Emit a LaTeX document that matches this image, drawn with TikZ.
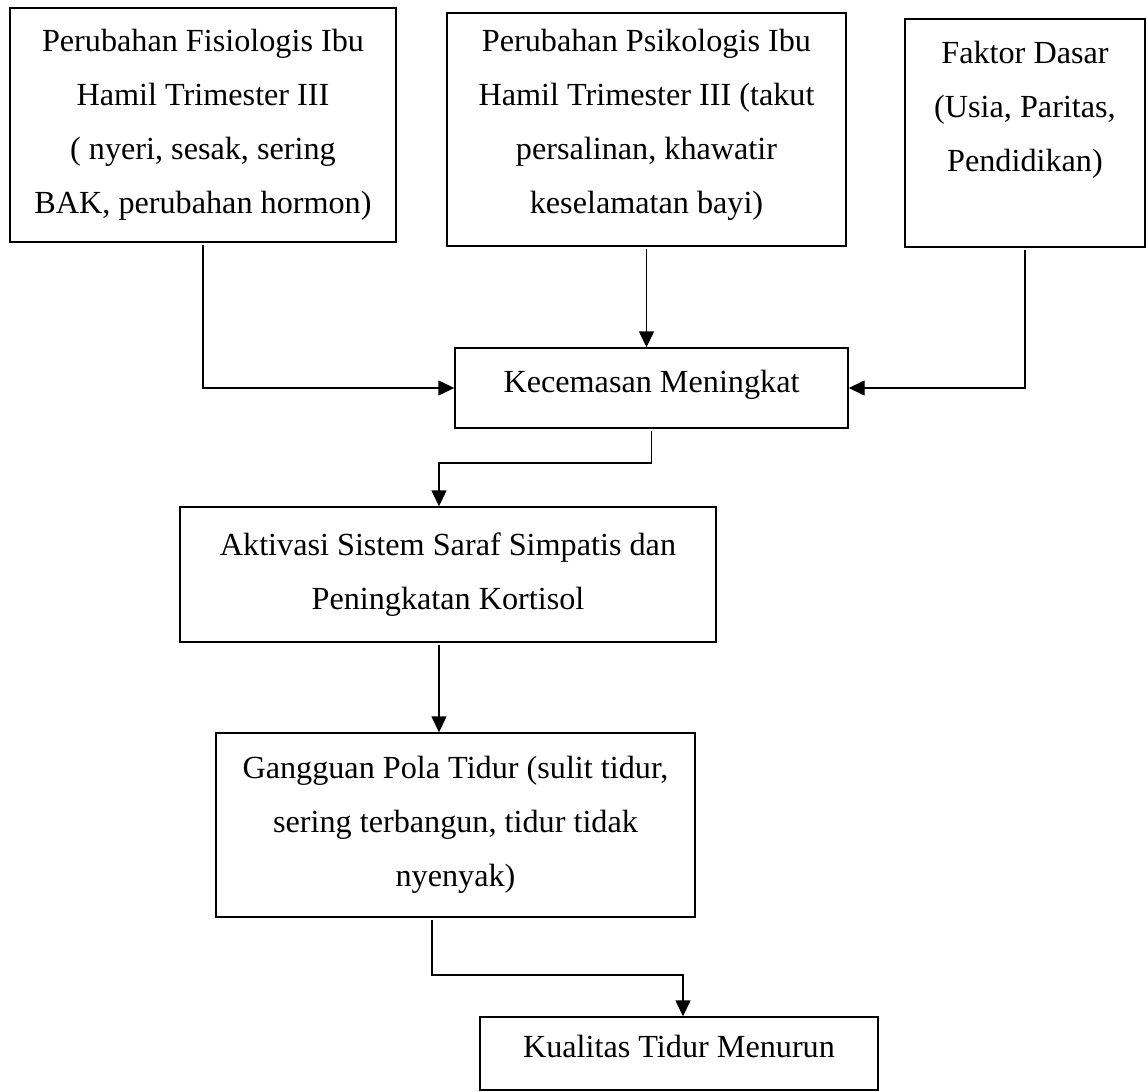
\documentclass[tikz,border=0pt]{standalone}
\usepackage{fontspec}
\setmainfont{Liberation Serif}
\usetikzlibrary{arrows.meta}

\begin{document}
\begin{tikzpicture}[x=0.5pt, y=-0.5pt, >={Triangle[length=8pt,width=7.5pt]}, line width=0.7pt]
	\tikzstyle{kotak}=[draw, rectangle, inner sep=0pt, align=center, font=\fontsize{16.1}{27}\selectfont]
	\tikzstyle{panah}=[->, shorten <=1pt]
	\useasboundingbox (0,0) rectangle (1148,1092);

	\node[kotak, minimum width=193pt, minimum height=117pt] (fis) at (203,125)
		{Perubahan Fisiologis Ibu\\Hamil Trimester III\\( nyeri, sesak, sering\\BAK, perubahan hormon)};
	\node[kotak, minimum width=199.5pt, minimum height=116.5pt] (psi) at (646.5,129.5)
		{Perubahan Psikologis Ibu\\Hamil Trimester III (takut\\persalinan, khawatir\\keselamatan bayi)\\[-19pt]\mbox{}};
	\node[kotak, minimum width=120pt, minimum height=114pt] (fak) at (1025,133)
		{Faktor Dasar\\(Usia, Paritas,\\Pendidikan)\\\mbox{}};
	\node[kotak, minimum width=196.5pt, minimum height=40pt, text height=11pt, text depth=7pt] (kec) at (651.5,388)
		{Kecemasan Meningkat};
	\node[kotak, minimum width=268pt, minimum height=67.5pt] (akt) at (448,574.5)
		{Aktivasi Sistem Saraf Simpatis dan\\Peningkatan Kortisol};
	\node[kotak, minimum width=239.5pt, minimum height=92pt] (gan) at (455.5,825)
		{Gangguan Pola Tidur (sulit tidur,\\sering terbangun, tidur tidak\\nyenyak)};
	\node[kotak, minimum width=199pt, minimum height=36.5pt, text height=11pt, text depth=7pt] (kua) at (679,1053.5)
		{Kualitas Tidur Menurun};

	\coordinate (b1) at (439,463);
	\coordinate (b2) at (432,975);
	\coordinate (b3) at (683,975);

	\draw[panah] (fis) |- (kec);
	\draw[panah] (psi.south) -- (psi.south |- kec.north);
	\draw[panah] (fak) |- (kec);
	\draw[panah] (kec.south) |- (b1) -- (b1 |- akt.north);
	\draw[panah] (b1 |- akt.south) -- (b1 |- gan.north);
	\draw[panah] (b2 |- gan.south) -- (b2) -- (b3) -- (b3 |- kua.north);
\end{tikzpicture}
\end{document}
